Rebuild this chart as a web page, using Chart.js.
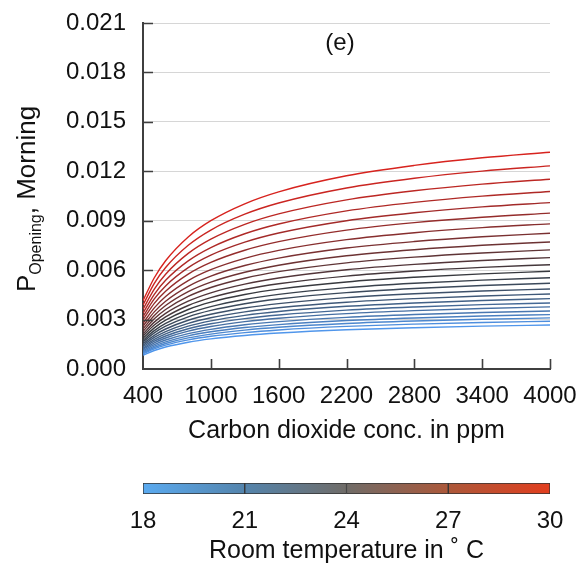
<!DOCTYPE html>
<html>
<head>
<meta charset="utf-8">
<script src="https://cdn.jsdelivr.net/npm/chart.js@4/dist/chart.umd.min.js"></script>
<style>
  html, body { margin: 0; padding: 0; background: #ffffff; }
  #wrap { position: relative; width: 582px; height: 570px; }
  #main { position: absolute; left: 0; top: 0; }
  #cbar { position: absolute; left: 0; top: 450px; }
</style>
</head>
<body>
<div id="wrap">
  <canvas id="main" width="582" height="450"></canvas>
  <canvas id="cbar" width="582" height="120"></canvas>
</div>
<script>
// ---------------- DATA ----------------
const co2 = [400, 500, 600, 800, 1000, 1300, 1600, 2200, 2800, 3400, 4000];
const xTicks = [400, 1000, 1600, 2200, 2800, 3400, 4000];
const yTicks = [0, 0.003, 0.006, 0.009, 0.012, 0.015, 0.018, 0.021];
const tempTicks = [18, 21, 24, 27, 30];
const temps = [18, 18.5, 19, 19.5, 20, 20.5, 21, 21.5, 22, 22.5, 23, 23.5, 24,
               24.5, 25, 25.5, 26, 26.5, 27, 27.5, 28, 28.5, 29, 29.5, 30];

const pT18_0 = [0.000841, 0.001124, 0.001334, 0.001626, 0.001826, 0.002035, 0.002181, 0.002379, 0.002507, 0.002601, 0.00267];
const pT18_5 = [0.000914, 0.001221, 0.001449, 0.001766, 0.001984, 0.002210, 0.002369, 0.002584, 0.002723, 0.002825, 0.00290];
const pT19_0 = [0.000977, 0.001305, 0.001548, 0.001888, 0.002120, 0.002362, 0.002533, 0.002762, 0.002911, 0.003019, 0.00310];
const pT19_5 = [0.001040, 0.001389, 0.001648, 0.002010, 0.002257, 0.002515, 0.002696, 0.002940, 0.003099, 0.003214, 0.00330];
const pT20_0 = [0.001109, 0.001482, 0.001758, 0.002144, 0.002408, 0.002682, 0.002876, 0.003136, 0.003305, 0.003428, 0.00352];
const pT20_5 = [0.001188, 0.001587, 0.001883, 0.002296, 0.002579, 0.002873, 0.003080, 0.003359, 0.003540, 0.003672, 0.00377];
const pT21_0 = [0.001263, 0.001688, 0.002003, 0.002442, 0.002743, 0.003056, 0.003276, 0.003573, 0.003765, 0.003906, 0.00401];
const pT21_5 = [0.001345, 0.001798, 0.002133, 0.002600, 0.002921, 0.003254, 0.003489, 0.003805, 0.004010, 0.004159, 0.00427];
const pT22_0 = [0.001433, 0.001916, 0.002273, 0.002771, 0.003112, 0.003467, 0.003717, 0.004054, 0.004272, 0.004432, 0.00455];
const pT22_5 = [0.001531, 0.002046, 0.002428, 0.002960, 0.003324, 0.003703, 0.003971, 0.004330, 0.004564, 0.004734, 0.00486];
const pT23_0 = [0.001638, 0.002189, 0.002597, 0.003167, 0.003557, 0.003962, 0.004248, 0.004633, 0.004883, 0.005065, 0.00520];
const pT23_5 = [0.001745, 0.002332, 0.002767, 0.003374, 0.003789, 0.004221, 0.004526, 0.004936, 0.005202, 0.005396, 0.00554];
const pT24_0 = [0.001868, 0.002497, 0.002962, 0.003611, 0.004056, 0.004519, 0.004845, 0.005284, 0.005568, 0.005776, 0.00593];
const pT24_5 = [0.001994, 0.002665, 0.003162, 0.003855, 0.004330, 0.004823, 0.005172, 0.005640, 0.005944, 0.006165, 0.00633];
const pT25_0 = [0.002129, 0.002846, 0.003377, 0.004117, 0.004624, 0.005151, 0.005523, 0.006023, 0.006348, 0.006584, 0.00676];
const pT25_5 = [0.002277, 0.003044, 0.003611, 0.004403, 0.004945, 0.005509, 0.005907, 0.006442, 0.006789, 0.007042, 0.00723];
const pT26_0 = [0.002429, 0.003246, 0.003851, 0.004695, 0.005274, 0.005875, 0.006299, 0.006870, 0.007240, 0.007510, 0.00771];
const pT26_5 = [0.002596, 0.003469, 0.004116, 0.005018, 0.005636, 0.006279, 0.006732, 0.007342, 0.007737, 0.008026, 0.00824];
const pT27_0 = [0.002775, 0.003709, 0.004401, 0.005365, 0.006026, 0.006713, 0.007198, 0.007850, 0.008273, 0.008581, 0.00881];
const pT27_5 = [0.002980, 0.003983, 0.004725, 0.005761, 0.006471, 0.007209, 0.007729, 0.008429, 0.008883, 0.009214, 0.00946];
const pT28_0 = [0.003182, 0.004252, 0.005045, 0.006151, 0.006908, 0.007696, 0.008252, 0.008999, 0.009484, 0.009837, 0.01010];
const pT28_5 = [0.003393, 0.004534, 0.005380, 0.006559, 0.007367, 0.008207, 0.008799, 0.009596, 0.010113, 0.010490, 0.01077];
const pT29_0 = [0.003629, 0.004850, 0.005754, 0.007016, 0.007880, 0.008778, 0.009412, 0.010264, 0.010817, 0.011220, 0.01152];
const pT29_5 = [0.003884, 0.005191, 0.006159, 0.007509, 0.008434, 0.009395, 0.010074, 0.010986, 0.011578, 0.012009, 0.01233];
const pT30_0 = [0.004145, 0.005540, 0.006573, 0.008014, 0.009001, 0.010028, 0.010752, 0.011726, 0.012357, 0.012818, 0.01316];

const series = [pT18_0, pT18_5, pT19_0, pT19_5, pT20_0, pT20_5, pT21_0, pT21_5, pT22_0,
                pT22_5, pT23_0, pT23_5, pT24_0, pT24_5, pT25_0, pT25_5, pT26_0, pT26_5,
                pT27_0, pT27_5, pT28_0, pT28_5, pT29_0, pT29_5, pT30_0];

// ---------------- STYLE ----------------
const FONT = 'Liberation Sans, Arial, Helvetica, sans-serif';
const AXIS = '#3f3f3f';
function lerp(a, b, f) { return a.map((v, i) => Math.round(v + (b[i] - v) * f)); }
function lineColor(t) {
  const blue = [80, 150, 235], mid = [55, 57, 62], red = [215, 35, 30];
  const f = (t - 18) / 12;
  const c = f <= 0.5 ? lerp(blue, mid, f * 2) : lerp(mid, red, (f - 0.5) * 2);
  return 'rgb(' + c.join(',') + ')';
}
function noPad(s) { s.paddingLeft = 0; s.paddingRight = 0; s.paddingTop = 0; s.paddingBottom = 0; }

const datasets = series.map((arr, k) => ({
  label: temps[k] + ' °C',
  data: co2.map((x, i) => ({ x: x, y: arr[i] })),
  borderColor: lineColor(temps[k]),
  borderWidth: 1.4,
  pointRadius: 0,
  fill: false,
  cubicInterpolationMode: 'monotone'
}));

const innerTicks = {
  id: 'innerTicks',
  afterDraw(chart) {
    const ctx = chart.ctx, xs = chart.scales.x, ys = chart.scales.y, a = chart.chartArea;
    ctx.save();
    ctx.strokeStyle = AXIS;
    ctx.lineWidth = 1.6;
    ctx.beginPath();
    yTicks.forEach(v => { const p = Math.round(ys.getPixelForValue(v)) + 0.5; if (v !== 0) { ctx.moveTo(a.left, p); ctx.lineTo(a.left + 10, p); } });
    xTicks.forEach(v => { const p = Math.round(xs.getPixelForValue(v)) + 0.5; if (v !== 400) { ctx.moveTo(p, a.bottom); ctx.lineTo(p, a.bottom - 10); } });
    ctx.stroke();
    // panel label
    ctx.fillStyle = '#111';
    ctx.font = '24px ' + FONT;
    ctx.textAlign = 'center';
    ctx.textBaseline = 'middle';
    ctx.fillText('(e)', 340, 43);
    // y-axis title with subscript
    ctx.translate(28, 199);
    ctx.rotate(-Math.PI / 2);
    const big = '26px ' + FONT, small = '16px ' + FONT;
    ctx.font = big; const wP = ctx.measureText('P').width; const wM = ctx.measureText(', Morning').width;
    ctx.font = small; const wO = ctx.measureText('Opening').width;
    let x0 = -(wP + wO + wM) / 2;
    ctx.textAlign = 'left';
    ctx.textBaseline = 'middle';
    ctx.font = big; ctx.fillText('P', x0, 0);
    ctx.font = small; ctx.fillText('Opening', x0 + wP, 9);
    ctx.font = big; ctx.fillText(', Morning', x0 + wP + wO, 0);
    ctx.restore();
  }
};

new Chart(document.getElementById('main'), {
  type: 'line',
  data: { datasets: datasets },
  options: {
    responsive: false,
    animation: false,
    events: [],
    layout: { padding: { left: 0, right: 32, top: 23, bottom: 0 } },
    plugins: { legend: { display: false }, tooltip: { enabled: false } },
    scales: {
      x: {
        type: 'linear', min: 400, max: 4000,
        afterBuildTicks: s => { s.ticks = xTicks.map(v => ({ value: v })); },
        afterFit: s => { s.height = 81; noPad(s); },
        grid: { display: true, drawOnChartArea: false, drawTicks: false },
        border: { display: true, color: AXIS, width: 2 },
        ticks: { color: '#111', font: { family: FONT, size: 24 }, padding: 13, maxRotation: 0, autoSkip: false,
                 callback: v => String(v) },
        title: { display: true, text: 'Carbon dioxide conc. in ppm', color: '#111', font: { family: FONT, size: 25 }, padding: { top: 0, bottom: 4 } }
      },
      y: {
        type: 'linear', min: 0, max: 0.021,
        afterBuildTicks: s => { s.ticks = yTicks.map(v => ({ value: v })); },
        afterFit: s => { s.width = 143; noPad(s); },
        grid: { color: '#d6d6d6', lineWidth: 1, drawTicks: false },
        border: { display: true, color: AXIS, width: 2 },
        ticks: { color: '#111', font: { family: FONT, size: 24 }, padding: 17, autoSkip: false,
                 callback: v => Number(v).toFixed(3) }
      }
    }
  },
  plugins: [innerTicks]
});

// ---------------- COLOUR BAR ----------------
function barGradient(ctx) {
  const chart = ctx.chart, a = chart.chartArea;
  if (!a) return '#888';
  const g = chart.ctx.createLinearGradient(a.left, 0, a.right, 0);
  g.addColorStop(0, 'rgb(90,170,240)');
  g.addColorStop(0.25, 'rgb(84,132,172)');
  g.addColorStop(0.5, 'rgb(112,108,104)');
  g.addColorStop(0.75, 'rgb(172,88,58)');
  g.addColorStop(1, 'rgb(226,62,30)');
  return g;
}
const segs = tempTicks.slice(0, -1).map((t, i) => [t, tempTicks[i + 1]]);
new Chart(document.getElementById('cbar'), {
  type: 'bar',
  data: {
    labels: ['T'],
    datasets: segs.map(s => ({
      data: [s],
      backgroundColor: barGradient,
      borderColor: '#333',
      borderWidth: 1,
      borderSkipped: false,
      grouped: false,
      categoryPercentage: 1,
      barPercentage: 1
    }))
  },
  options: {
    indexAxis: 'y',
    responsive: false,
    animation: false,
    events: [],
    layout: { padding: { left: 143, right: 32, top: 33, bottom: 0 } },
    plugins: { legend: { display: false }, tooltip: { enabled: false } },
    scales: {
      y: { display: false },
      x: {
        type: 'linear', min: 18, max: 30,
        afterBuildTicks: s => { s.ticks = tempTicks.map(v => ({ value: v })); },
        afterFit: s => { s.height = 76; noPad(s); },
        grid: { display: false },
        border: { display: false },
        ticks: { color: '#111', font: { family: FONT, size: 24 }, padding: 5, maxRotation: 0, autoSkip: false },
        title: { display: true, text: 'Room temperature in ˚ C', color: '#111', font: { family: FONT, size: 25 }, padding: { top: 0, bottom: 4 } }
      }
    }
  }
});
</script>
</body>
</html>
